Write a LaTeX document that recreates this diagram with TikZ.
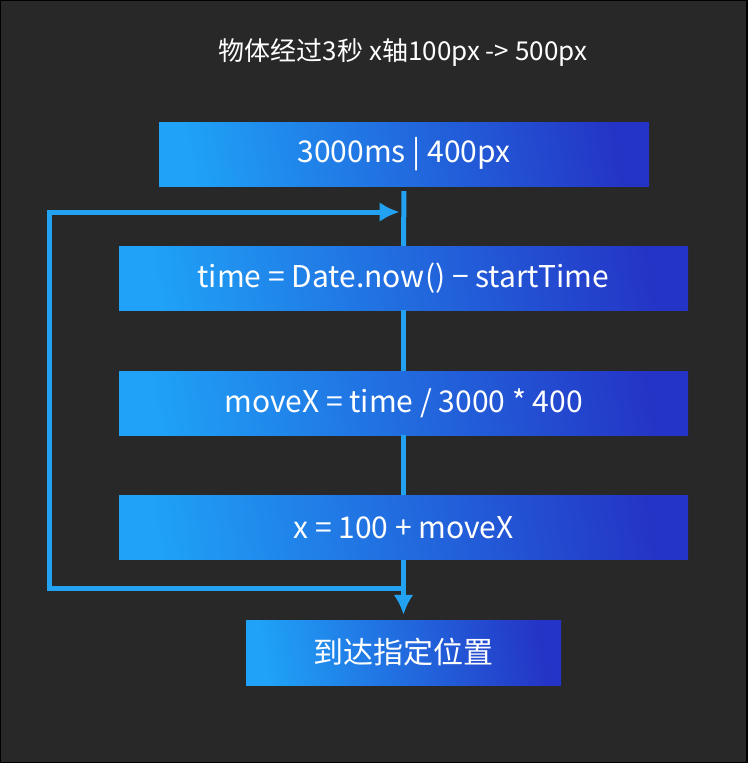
\documentclass[tikz,border=0pt]{standalone}
\usepackage{fontspec}
\setmainfont{Noto Sans CJK SC}
\usetikzlibrary{positioning, arrows.meta}
\definecolor{bg}{HTML}{282828}
\definecolor{lineblue}{HTML}{24A2F2}
\definecolor{boxa}{HTML}{1FA2F7}
\definecolor{boxb}{HTML}{2434C6}

\begin{document}
\begin{tikzpicture}[x=1pt, y=-1pt, >={Latex[length=20pt, width=20pt]},
  box/.style={minimum height=64pt, inner sep=0pt, text=white,
    font=\fontsize{30}{34}\selectfont, left color=boxa, right color=boxb,
    shading angle=100},
  flow/.style={line width=5pt, draw=lineblue}]
  \useasboundingbox (0,0) rectangle (747,763);
  \draw [fill=bg, draw=black, line width=2pt] (0,0) rectangle (747,763);
  \node (title) at (403,53) [text=white, font=\fontsize{26}{30}\selectfont] {物体经过3秒 x轴100px -> 500px};
  \node (span) at (404,154) [box, minimum width=490pt] {3000ms | 400px};
  \node (time) at (403.5,278) [box, minimum width=569pt] {time = Date.now() − startTime};
  \node (move) at (403.5,403) [box, minimum width=569pt] {moveX = time / 3000 * 400};
  \node (pos) at (403.5,527.5) [box, minimum width=569pt] {x = 100 + moveX};
  \node (done) at (403.5,652.5) [box, minimum width=315pt, minimum height=65pt] {到达指定位置};
  \coordinate (turn) at (404,588);
  \coordinate (low) at (49,588);
  \coordinate (high) at (49,212);
  \coordinate (entry) at (404,212);
  \draw [flow, shorten <=5pt] (span) -- (time);
  \draw [flow] (time) -- (move);
  \draw [flow] (move) -- (pos);
  \draw [flow, ->, shorten >=5pt] (pos) -- (done);
  \draw [flow, ->, shorten >=4.5pt] (turn) -- (low) -- (high) -- (entry);
\end{tikzpicture}
\end{document}
